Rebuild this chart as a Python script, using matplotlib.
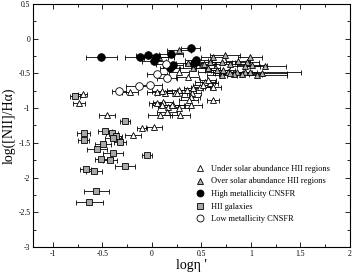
import matplotlib
matplotlib.use("Agg")
import matplotlib.pyplot as plt
from matplotlib.ticker import MultipleLocator
from matplotlib.lines import Line2D

plt.rcParams['font.family'] = ['Liberation Serif', 'DejaVu Serif']

# Under solar abundance HII regions (white triangles)
under_x = [-0.70, -0.74, -0.22, -0.45, 0.02, -0.10, -0.19,
           0.05, 0.13, 0.23, 0.35, 0.40, 0.54, 0.59, 0.49, 0.62, 0.39, 0.11,
           0.05, 0.16, 0.36, 0.27, 0.57, 0.52, 0.62, 0.42, 0.27, 0.39, 0.25,
           0.37, 0.21, 0.27, 0.28, 0.08, 0.15, 0.10, 0.20, 0.10]
under_y = [-0.80, -0.92, -0.77, -1.10, -1.27, -1.28, -1.38,
           -0.77, -0.78, -0.78, -0.74, -0.78, -0.62, -0.64, -0.70, -0.89, -0.96, -0.91,
           -0.93, -0.98, -0.55, -0.48, -0.59, -0.67, -0.70, -0.71, -0.74, -0.84, -0.78,
           -0.88, -0.96, -1.00, -1.10, -1.10, -1.05, -0.96, -0.96, -0.76]
under_err = [0.05, 0.06, 0.08, 0.08, 0.08, 0.05, 0.08,
             0.10, 0.10, 0.12, 0.10, 0.10, 0.10, 0.08, 0.10, 0.06, 0.12, 0.10,
             0.08, 0.10, 0.12, 0.10, 0.08, 0.10, 0.08, 0.10, 0.12, 0.10, 0.12,
             0.10, 0.12, 0.10, 0.10, 0.12, 0.10, 0.10, 0.12, 0.10]

# Over solar abundance HII regions (grey triangles)
over_x = [0.27, 0.07, 0.62, 0.74, 0.99, 0.87, 0.71, 0.59, 0.79, 0.96, 1.01,
          1.14, 0.94, 0.57, 0.66, 0.51, 0.42, 0.36, 0.86, 0.94, 0.77, 0.99,
          0.83, 0.91, 1.06, 1.11, 0.71, 0.79, 0.72, 0.53]
over_y = [-0.16, -0.26, -0.26, -0.23, -0.27, -0.32, -0.33, -0.33, -0.37, -0.33, -0.38,
          -0.40, -0.40, -0.42, -0.45, -0.38, -0.42, -0.35, -0.48, -0.48, -0.48, -0.48,
          -0.51, -0.51, -0.52, -0.49, -0.52, -0.50, -0.45, -0.36]
over_err = [0.12, 0.15, 0.12, 0.15, 0.12, 0.12, 0.10, 0.12, 0.15, 0.12, 0.15,
            0.21, 0.15, 0.12, 0.12, 0.12, 0.15, 0.12, 0.15, 0.12, 0.15, 0.52,
            0.15, 0.20, 0.30, 0.25, 0.15, 0.15, 0.12, 0.12]

# High metallicity CNSFR (black circles)
high_x = [-0.51, -0.12, -0.04, 0.04, 0.02, 0.19, 0.21, 0.18, 0.39, 0.45, 0.43]
high_y = [-0.26, -0.26, -0.24, -0.26, -0.32, -0.22, -0.38, -0.42, -0.13, -0.30, -0.35]
high_err = [0.16, 0.15, 0.12, 0.12, 0.12, 0.12, 0.10, 0.10, 0.10, 0.12, 0.10]

# HII galaxies (grey squares)
gal_x = [-0.78, -0.69, -0.69, -0.47, -0.40, -0.36, -0.27, -0.39, -0.32, -0.49,
         -0.55, -0.39, -0.05, -0.51, -0.42, -0.27, -0.67, -0.58, -0.56, -0.63]
gal_y = [-0.83, -1.36, -1.46, -1.33, -1.36, -1.40, -1.19, -1.43, -1.49, -1.52,
         -1.59, -1.65, -1.68, -1.73, -1.75, -1.83, -1.88, -1.91, -2.19, -2.35]
gal_err = [0.05, 0.07, 0.06, 0.07, 0.06, 0.06, 0.05, 0.08, 0.06, 0.08,
           0.10, 0.10, 0.05, 0.06, 0.07, 0.10, 0.06, 0.08, 0.13, 0.14]

# Low metallicity CNSFR (open circles)
low_x = [-0.33, -0.13, -0.02, 0.05, 0.15, 0.14]
low_y = [-0.75, -0.68, -0.66, -0.51, -0.56, -0.37]
low_err = [0.07, 0.13, 0.12, 0.10, 0.10, 0.10]

fig = plt.figure(figsize=(3.53, 2.77), dpi=100)
ax = fig.add_axes([0.0935, 0.1083, 0.898, 0.8773])

ekw = dict(ls='none', ecolor='black', elinewidth=0.6, capsize=1.8, capthick=0.6,
           markeredgecolor='black', markeredgewidth=0.6)

ax.errorbar(under_x, under_y, xerr=under_err, marker='^', ms=5, mfc='white', **ekw)
ax.errorbar(over_x, over_y, xerr=over_err, marker='^', ms=5, mfc='#b0b0b0', **ekw)
ax.errorbar(high_x, high_y, xerr=high_err, marker='o', ms=5.5, mfc='black', **ekw)
ax.errorbar(gal_x, gal_y, xerr=gal_err, marker='s', ms=4.5, mfc='#a8a8a8', **ekw)
ax.errorbar(low_x, low_y, xerr=low_err, marker='o', ms=5.5, mfc='white', **ekw)

ax.set_xlim(-1.2, 2)
ax.set_ylim(-3, 0.5)
ax.xaxis.set_major_locator(MultipleLocator(0.5))
ax.xaxis.set_minor_locator(MultipleLocator(0.25))
ax.yaxis.set_major_locator(MultipleLocator(0.5))
ax.yaxis.set_minor_locator(MultipleLocator(0.25))
ax.tick_params(which='both', direction='in', top=True, right=True, width=0.6, labelsize=5.5, pad=2)
ax.tick_params(which='major', length=3.5)
ax.tick_params(which='minor', length=2)
for s in ax.spines.values():
    s.set_linewidth(0.8)

def fmt(v):
    s = ('%g' % v)
    return s
ax.set_xticks([-1, -0.5, 0, 0.5, 1, 1.5, 2])
ax.set_xticklabels([fmt(v) for v in [-1, -0.5, 0, 0.5, 1, 1.5, 2]])
ax.set_yticks([-3, -2.5, -2, -1.5, -1, -0.5, 0, 0.5])
ax.set_yticklabels([fmt(v) for v in [-3, -2.5, -2, -1.5, -1, -0.5, 0, 0.5]])

ax.set_xlabel("logη '", fontsize=10, labelpad=1)
ax.set_ylabel("log([NII]/Hα)", fontsize=10, labelpad=2)

handles = [
    Line2D([], [], ls='none', marker='^', ms=5, mfc='white', mec='black', mew=0.6),
    Line2D([], [], ls='none', marker='^', ms=5, mfc='#b0b0b0', mec='black', mew=0.6),
    Line2D([], [], ls='none', marker='o', ms=5, mfc='black', mec='black', mew=0.6),
    Line2D([], [], ls='none', marker='s', ms=4.5, mfc='#a8a8a8', mec='black', mew=0.6),
    Line2D([], [], ls='none', marker='o', ms=5, mfc='white', mec='black', mew=0.6),
]
labels = ["Under solar abundance HII regions", "Over solar abundance HII regions",
          "High metallicity CNSFR", "HII galaxies", "Low metallicity CNSFR"]
ax.legend(handles, labels, loc='upper left', bbox_to_anchor=(0.5, 0.355), frameon=False,
          fontsize=6, handlelength=1, handletextpad=0.8, labelspacing=0.55, borderpad=0)

fig.savefig("out.png", dpi=100)
